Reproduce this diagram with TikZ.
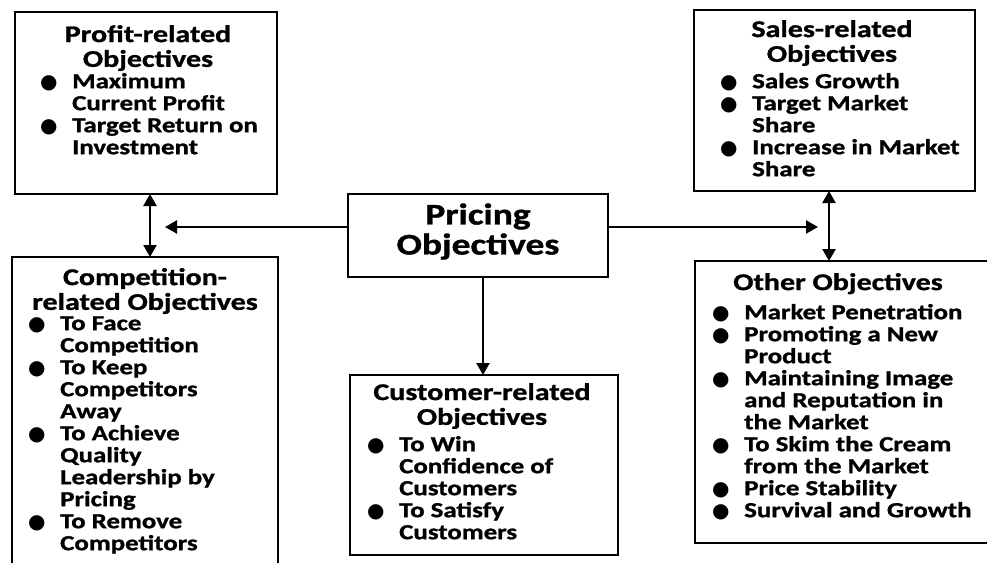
\documentclass[tikz,border=0pt]{standalone}
\usepackage{fontspec}
\setmainfont{Carlito}[FakeStretch=1.25, BoldFeatures={FakeBold=1.2}]
\newfontfamily\symfont{DejaVu Sans}
\usetikzlibrary{arrows.meta}
\newcommand{\bul}{\makebox[32pt][l]{\smash{\symfont\fontsize{20}{20}\selectfont ●}}}
\newcommand{\ind}{\hspace*{32pt}}
\tikzset{
  box/.style={draw, line width=2.8pt, inner sep=0pt, outer sep=0pt},
  head/.style={font=\bfseries\fontsize{24}{23}\selectfont, align=center, inner sep=0pt, anchor=north},
  items/.style={font=\bfseries\fontsize{21.5}{22}\selectfont, align=left, inner sep=0pt, anchor=north west},
  title/.style={font=\bfseries\fontsize{30}{30}\selectfont, align=center, inner sep=0pt},
  arr/.style={line width=2.2pt, -{Triangle[length=12pt,width=13pt]}},
  darr/.style={line width=2.2pt, {Triangle[length=12pt,width=13pt]}-{Triangle[length=12pt,width=13pt]}}
}
\begin{document}
\begin{tikzpicture}[x=1pt,y=-1pt]
\useasboundingbox (0,0) rectangle (987,562);
\clip (0,0) rectangle (987,562);
% boxes
\node[box, minimum width=262pt, minimum height=182pt] (profit) at (146,103) {};
\node[box, minimum width=266pt, minimum height=318pt] (comp) at (145,416) {};
\node[box, minimum width=260pt, minimum height=83pt] (pricing) at (478,235.5) {};
\node[box, minimum width=268pt, minimum height=180pt] (cust) at (484,465) {};
\node[box, minimum width=281pt, minimum height=181pt] (sales) at (834.5,100.5) {};
\node[box, minimum width=295pt, minimum height=282pt] (other) at (842.5,402) {};
% title
\node[title] (ttl) at ([yshift=4pt]pricing.center) {Pricing\\Objectives};
% profit
\node[head] (profith) at (148,25) {\strut Profit-related\\Objectives};
\node[items] (profitl) at (40,72.6) {\strut\bul Maximum\\\ind Current Profit\\\bul Target Return on\\\ind Investment};
% competition
\node[head] (comph) at (145,268) {\strut Competition-\\related Objectives};
\node[items] (compl) at (28,314.6) {\strut\bul To Face\\\ind Competition\\\bul To Keep\\\ind Competitors\\\ind Away\\\bul To Achieve\\\ind Quality\\\ind Leadership by\\\ind Pricing\\\bul To Remove\\\ind Competitors};
% customer
\node[head] (custh) at (482,383) {\strut Customer-related\\Objectives};
\node[items] (custl) at (367,435.6) {\strut\bul To Win\\\ind Confidence of\\\ind Customers\\\bul To Satisfy\\\ind Customers};
% sales
\node[head] (salesh) at (832,20) {\strut Sales-related\\Objectives};
\node[items] (salesl) at (720,72.6) {\strut\bul Sales Growth\\\bul Target Market\\\ind Share\\\bul Increase in Market\\\ind Share};
% other
\node[head] (otherh) at (838,273) {\strut Other Objectives};
\node[items] (otherl) at (712,303.6) {\strut\bul Market Penetration\\\bul Promoting a New\\\ind Product\\\bul Maintaining Image\\\ind and Reputation in\\\ind the Market\\\bul To Skim the Cream\\\ind from the Market\\\bul Price Stability\\\bul Survival and Growth};
% connectors
\coordinate (lt) at (165,227);
\coordinate (rt) at (818,227);
\draw[arr] (pricing.west |- lt) -- (lt);
\draw[arr] (pricing.east |- rt) -- (rt);
\draw[arr] ([xshift=5pt]pricing.south) -- ([xshift=-1pt]cust.north);
\draw[darr] ([xshift=4pt]profit.south) -- ([xshift=5pt]comp.north);
\draw[darr] ([xshift=-5.5pt]sales.south) -- ([xshift=-13.5pt]other.north);
\end{tikzpicture}
\end{document}
